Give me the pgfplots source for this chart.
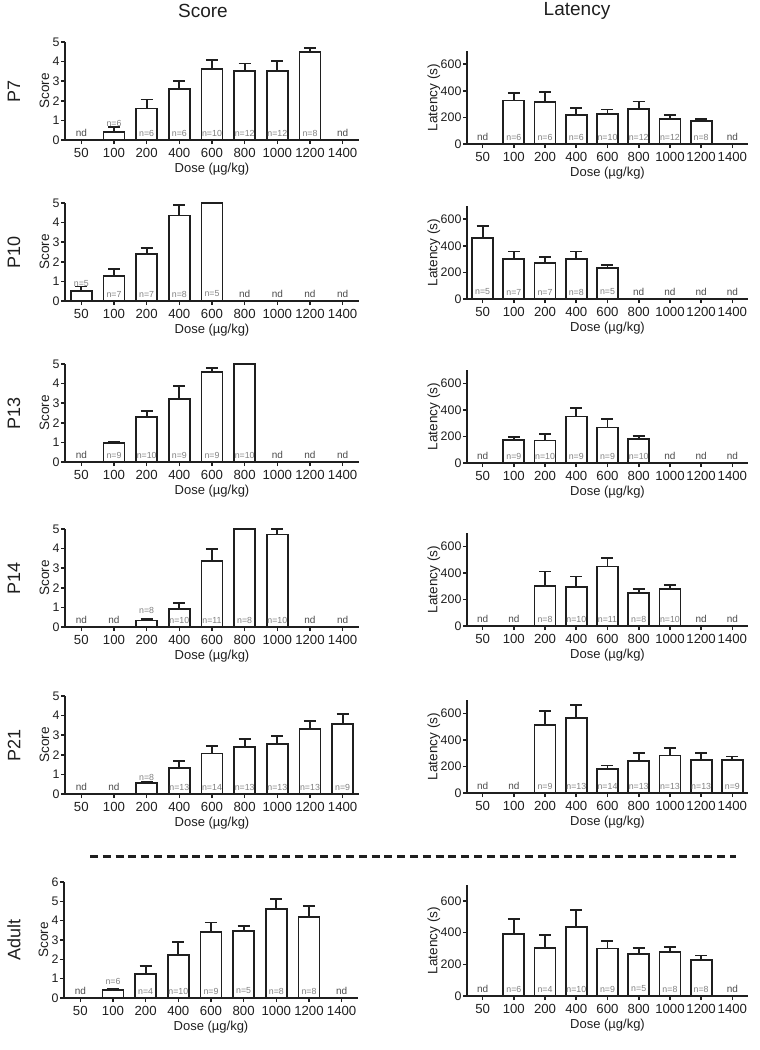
\documentclass[border=0pt]{standalone}
\usepackage{fontspec}
\setmainfont{Liberation Sans}
\usepackage{pgfplots}
\pgfplotsset{compat=1.18}
\definecolor{ink}{gray}{0.12}
\definecolor{ngray}{gray}{0.5}
\newcommand\fs[1]{\fontsize{#1}{#1}\selectfont}
\tikzset{
  ndlab/.style={font=\fs{5}, text=ink!80, yshift=3.5pt, inner sep=0pt, anchor=center},
  ninlab/.style={font=\fs{4.4}, text=ngray, yshift=3.5pt, inner sep=0pt, anchor=center},
  nuplab/.style={font=\fs{4.4}, text=ngray, yshift=8.5pt, inner sep=0pt, anchor=center},
}
\newcommand\nd[1]{\node[ndlab] at (axis cs:#1,0) {nd};}
\newcommand\nin[2]{\node[ninlab] at (axis cs:#1,0) {n=#2};}
\newcommand\nup[2]{\node[nuplab] at (axis cs:#1,0) {n=#2};}
\pgfplotsset{
  myaxis/.style={
    scale only axis, anchor=south west, clip=false,
    axis x line=bottom, axis y line=left,
    axis line style={-, line width=0.9pt, draw=ink},
    xmin=-0.5, xmax=8.5, ymin=0,
    xtick={0,...,8}, xticklabels={50,100,200,400,600,800,1000,1200,1400},
    tick align=outside, major tick length=2pt,
    tick style={line width=0.8pt, draw=ink},
    /pgf/number format/assume math mode=true,
    xticklabel style={font=\fs{6.6}, text=ink, inner sep=1.8pt},
    yticklabel style={font=\fs{6.2}, text=ink, inner sep=0.6pt},
    xlabel={Dose (µg/kg)},
    xlabel style={font=\fs{6.5}, text=ink, at={(axis description cs:0.5,0)}, anchor=center, yshift=-14.5pt},
    ylabel style={font=\fs{6.8}, text=ink, anchor=center},
  },
  scoreax/.style={myaxis, width=147pt, height=49pt, ymax=5, ytick={0,...,5},
    ylabel={Score}, ylabel style={at={(axis description cs:-0.07,0.5)}}},
  latax/.style={myaxis, width=140.5pt, height=46.5pt, ymax=700, ytick={0,200,400,600},
    ylabel={Latency (s)}, ylabel style={at={(axis description cs:-0.118,0.5)}}},
  barsty/.style={ybar, bar width=10.5pt, fill=white, draw=ink, line width=0.9pt,
    error bars/.cd, y dir=plus, y explicit,
    error bar style={line width=0.9pt, draw=ink},
    error mark options={rotate=90, mark size=3pt, line width=0.9pt, draw=ink}},
}
\begin{document}
\begin{tikzpicture}
\path[use as bounding box] (0,0) rectangle (380pt,-525pt);
\node[font=\fs{9.5}, text=ink] at (101.5pt,-5.5pt) {Score};
\node[font=\fs{9.5}, text=ink] at (288.5pt,-5.5pt) {Latency};
\node[font=\fs{9}, text=ink, rotate=90] at (7pt,-45.5pt) {P7};
\node[font=\fs{9}, text=ink, rotate=90] at (7pt,-126pt) {P10};
\node[font=\fs{9}, text=ink, rotate=90] at (7pt,-206.5pt) {P13};
\node[font=\fs{9}, text=ink, rotate=90] at (7pt,-289pt) {P14};
\node[font=\fs{9}, text=ink, rotate=90] at (7pt,-372.5pt) {P21};
\node[font=\fs{9}, text=ink, rotate=90] at (7pt,-470pt) {Adult};
\draw[line width=1.5pt, dash pattern=on 4pt off 2.4pt, draw=ink] (45pt,-428pt) -- (368pt,-428pt);

% ---------- P7 ----------
\begin{axis}[scoreax, at={(32.5pt,-70pt)}]
\addplot[barsty] table[x=x, y=y, y error=e] {
x y e
1 0.42 0.26
2 1.61 0.46
3 2.59 0.41
4 3.64 0.43
5 3.51 0.39
6 3.51 0.51
7 4.49 0.20
};
\nd{0}\nd{8}\nup{1}{6}\nin{2}{6}\nin{3}{6}\nin{4}{10}\nin{5}{12}\nin{6}{12}\nin{7}{8}
\end{axis}
\begin{axis}[latax, at={(233.5pt,-72pt)}]
\addplot[barsty] table[x=x, y=y, y error=e] {
x y e
1 328 54
2 315 75
3 216 57
4 223 37
5 265 55
6 186 35
7 174 17
};
\nd{0}\nd{8}\nin{1}{6}\nin{2}{6}\nin{3}{6}\nin{4}{10}\nin{5}{12}\nin{6}{12}\nin{7}{8}
\end{axis}

% ---------- P10 ----------
\begin{axis}[scoreax, at={(32.5pt,-150.5pt)}]
\addplot[barsty] table[x=x, y=y, y error=e] {
x y e
0 0.52 0.22
1 1.29 0.35
2 2.38 0.34
3 4.36 0.52
4 5.00 0
};
\nup{0}{5}\nin{1}{7}\nin{2}{7}\nin{3}{8}\nin{4}{5}\nd{5}\nd{6}\nd{7}\nd{8}
\end{axis}
\begin{axis}[latax, at={(233.5pt,-149.5pt)}]
\addplot[barsty] table[x=x, y=y, y error=e] {
x y e
0 457 95
1 299 58
2 269 45
3 302 55
4 236 18
};
\nin{0}{5}\nin{1}{7}\nin{2}{7}\nin{3}{8}\nin{4}{5}\nd{5}\nd{6}\nd{7}\nd{8}
\end{axis}

% ---------- P13 ----------
\begin{axis}[scoreax, at={(32.5pt,-231pt)}]
\addplot[barsty] table[x=x, y=y, y error=e] {
x y e
1 0.97 0.05
2 2.30 0.32
3 3.23 0.66
4 4.59 0.21
5 5.00 0
};
\nd{0}\nin{1}{9}\nin{2}{10}\nin{3}{9}\nin{4}{9}\nin{5}{10}\nd{6}\nd{7}\nd{8}
\end{axis}
\begin{axis}[latax, at={(233.5pt,-231.5pt)}]
\addplot[barsty] table[x=x, y=y, y error=e] {
x y e
1 175 20
2 170 48
3 350 62
4 268 62
5 183 22
};
\nd{0}\nin{1}{9}\nin{2}{10}\nin{3}{9}\nin{4}{9}\nin{5}{10}\nd{6}\nd{7}\nd{8}
\end{axis}

% ---------- P14 ----------
\begin{axis}[scoreax, at={(32.5pt,-313.5pt)}]
\addplot[barsty] table[x=x, y=y, y error=e] {
x y e
2 0.33 0.08
3 0.90 0.31
4 3.36 0.61
5 5.00 0
6 4.72 0.28
};
\nd{0}\nd{1}\nup{2}{8}\nin{3}{10}\nin{4}{11}\nin{5}{8}\nin{6}{10}\nd{7}\nd{8}
\end{axis}
\begin{axis}[latax, at={(233.5pt,-313pt)}]
\addplot[barsty] table[x=x, y=y, y error=e] {
x y e
2 299 111
3 294 79
4 448 62
5 249 32
6 276 35
};
\nd{0}\nd{1}\nin{2}{8}\nin{3}{10}\nin{4}{11}\nin{5}{8}\nin{6}{10}\nd{7}\nd{8}
\end{axis}

% ---------- P21 ----------
\begin{axis}[scoreax, at={(32.5pt,-397pt)}]
\addplot[barsty] table[x=x, y=y, y error=e] {
x y e
2 0.56 0.06
3 1.33 0.35
4 2.07 0.37
5 2.41 0.41
6 2.56 0.40
7 3.30 0.43
8 3.56 0.51
};
\nd{0}\nd{1}\nup{2}{8}\nin{3}{13}\nin{4}{14}\nin{5}{13}\nin{6}{13}\nin{7}{13}\nin{8}{9}
\end{axis}
\begin{axis}[latax, at={(233.5pt,-396.5pt)}]
\addplot[barsty] table[x=x, y=y, y error=e] {
x y e
2 512 105
3 562 100
4 182 25
5 242 58
6 282 55
7 250 50
8 250 25
};
\nd{0}\nd{1}\nin{2}{9}\nin{3}{13}\nin{4}{14}\nin{5}{13}\nin{6}{13}\nin{7}{13}\nin{8}{9}
\end{axis}

% ---------- Adult ----------
\begin{axis}[scoreax, height=58pt, ymax=6, ytick={0,...,6}, at={(32pt,-499pt)}]
\addplot[barsty] table[x=x, y=y, y error=e] {
x y e
1 0.40 0.07
2 1.26 0.41
3 2.24 0.64
4 3.40 0.51
5 3.45 0.29
6 4.60 0.52
7 4.17 0.61
};
\nd{0}\nup{1}{6}\nin{2}{4}\nin{3}{10}\nin{4}{9}\nin{5}{5}\nin{6}{8}\nin{7}{8}\nd{8}
\end{axis}
\begin{axis}[latax, height=55.5pt, at={(233.5pt,-498pt)}]
\addplot[barsty] table[x=x, y=y, y error=e] {
x y e
1 389 97
2 305 80
3 434 109
4 300 45
5 263 42
6 278 29
7 227 28
};
\nd{0}\nin{1}{6}\nin{2}{4}\nin{3}{10}\nin{4}{9}\nin{5}{5}\nin{6}{8}\nin{7}{8}\nd{8}
\end{axis}
\end{tikzpicture}
\end{document}
